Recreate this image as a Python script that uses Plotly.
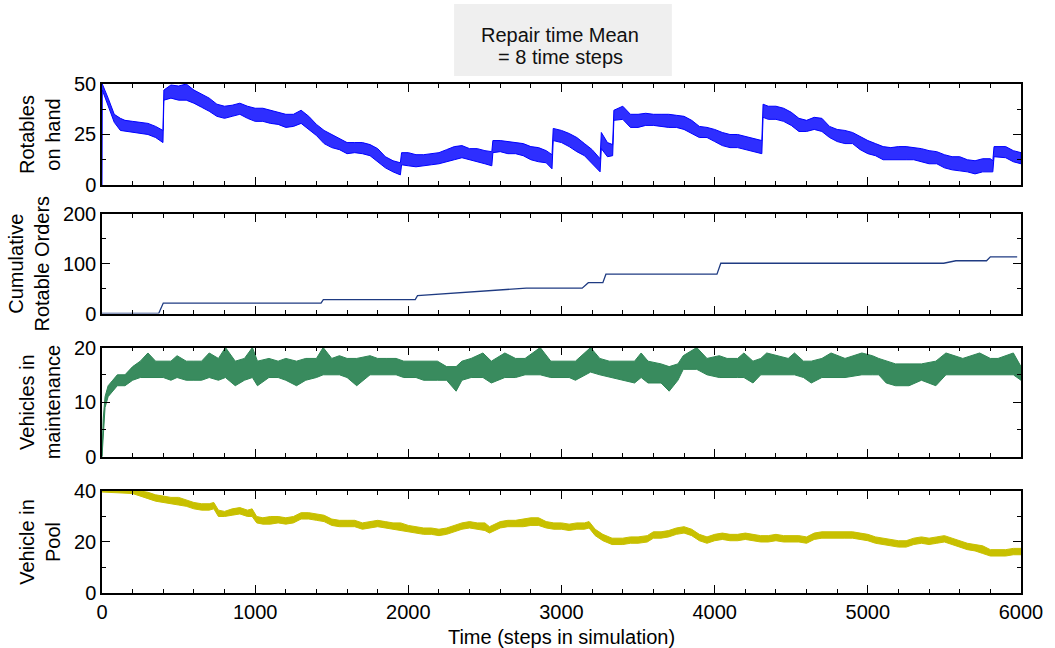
import plotly.graph_objects as go
from plotly.subplots import make_subplots

# ---------------- data ----------------
# Panel 1: Rotables on hand -- noisy series given as low/high envelope
rot_t = [0, 2, 40, 80, 120, 150, 200, 250, 300, 350, 398, 404, 450, 500, 550, 600, 650, 700, 750, 800,
         850, 900, 950, 1000, 1050, 1100, 1150, 1200, 1250, 1300, 1350, 1400, 1450, 1500, 1550, 1600,
         1650, 1700, 1750, 1800, 1850, 1900, 1948, 1956, 2000, 2050, 2100, 2150, 2200, 2250, 2300,
         2350, 2400, 2450, 2500, 2545, 2552, 2600, 2650, 2700, 2750, 2800, 2850, 2900, 2938, 2946,
         3000, 3050, 3100, 3150, 3200, 3252, 3260, 3300, 3334, 3342, 3400, 3450, 3500, 3550, 3600,
         3650, 3700, 3750, 3800, 3850, 3900, 3950, 4000, 4050, 4100, 4150, 4200, 4250, 4308, 4316,
         4350, 4400, 4450, 4500, 4550, 4600, 4650, 4700, 4750, 4800, 4850, 4900, 4950, 5000, 5050,
         5100, 5150, 5200, 5250, 5300, 5350, 5400, 5450, 5500, 5550, 5600, 5650, 5700, 5750, 5800,
         5816, 5824, 5900, 5950, 6000]
rot_lo = [0, 47, 39, 31, 27, 26.5, 26, 25.5, 25, 23.5, 21, 42, 43, 42, 42, 40.5, 38.5, 36.5, 34, 33,
          34, 35, 33, 31.5, 31.5, 30.5, 30, 28.5, 29, 30.5, 27.5, 24.5, 20.5, 18.5, 17.5, 15.5,
          16, 15.5, 14.5, 11.5, 8.5, 6.5, 5, 10, 9.5, 9, 9.5, 10, 10.5, 11.5, 12.5,
          13.5, 12.5, 11.5, 10.5, 9.5, 16, 16.5, 15.5, 15.5, 14.5, 12.5, 11.5, 11, 8, 22,
          21, 19, 16.5, 14.5, 10.5, 6.5, 18, 14, 14.5, 32, 32.5, 28.5, 28.5, 29.5, 29.5,
          29, 28.5, 28.5, 27.5, 25.5, 23.5, 23.5, 21.5, 19.5, 18.5, 18.5, 17.5, 16.5, 15.5, 33.5,
          32.5, 32.5, 31.5, 29.5, 26.5, 26.5, 27.5, 26.5, 23.5, 21.5, 20.5, 20.5, 17.5, 15.5, 14.5,
          12.5, 12.5, 12.5, 12.5, 12.5, 11.5, 10.5, 10.5, 8.5, 7.5, 7, 6.5, 5.5, 6.5, 6.5,
          6.5, 14, 13.5, 11.5, 10.5]
rot_hi = [50, 50, 43, 35, 33, 32, 31.5, 31, 30.5, 29, 27, 47, 49.5, 49, 50, 47, 45, 43, 40, 39,
          39.5, 40.5, 39, 38, 38, 37, 36, 35, 35, 37, 34, 30, 27, 25, 23, 21,
          21, 21, 20, 18, 14, 12, 11, 16, 16, 15, 15, 15.5, 16, 17.5, 19,
          19.5, 18, 18, 17, 16.5, 22, 22, 21.5, 21, 20.5, 19, 18.5, 17, 15, 28,
          27, 25.5, 23.5, 20.5, 17.5, 13, 26, 21, 20, 37, 39, 35, 35, 35.5, 35,
          35, 35, 34.5, 34, 32, 29, 28.5, 27.5, 26, 25, 25, 24, 23, 22, 40,
          39, 39, 38, 36, 33, 32, 33.5, 33, 29, 27.5, 27, 26, 24, 22, 20.5,
          19, 18.5, 19, 19, 18.5, 18, 17, 16.5, 15, 14, 14, 12.5, 12, 13, 13,
          12, 19, 19, 17, 16]

# Panel 2: Cumulative rotable orders
ord_t = [0, 370, 400, 1430, 1445, 2045, 2060, 2770, 3135, 3175, 3270, 3290, 4015, 4040, 5495, 5575,
         5775, 5800, 5975]
ord_v = [0, 0, 21, 21, 28, 28, 36, 51, 51, 62, 62, 79, 79, 101, 101, 106, 106, 114, 114]

# Panel 3: Vehicles in maintenance -- envelope
mnt_t = [0, 8, 20, 40, 70, 100, 150, 200, 250, 300, 350, 400, 450, 490, 550, 600, 650, 700, 760, 806,
         870, 930, 982, 1015, 1090, 1150, 1200, 1270, 1330, 1400, 1444, 1500, 1550, 1600, 1663, 1750,
         1800, 1860, 1920, 1970, 2050, 2100, 2190, 2250, 2312, 2350, 2410, 2487, 2542, 2630, 2700,
         2762, 2861, 2930, 2981, 3050, 3091, 3190, 3250, 3312, 3400, 3477, 3520, 3565, 3650, 3703,
         3760, 3795, 3883, 3950, 4030, 4081, 4150, 4191, 4250, 4301, 4340, 4411, 4480, 4521, 4580,
         4631, 4700, 4760, 4851, 4961, 5030, 5071, 5120, 5181, 5269, 5350, 5444, 5510, 5620, 5730,
         5800, 5850, 5950, 6000]
mnt_lo = [0, 3, 9, 11, 12, 13, 13, 14, 14.5, 14.5, 14.5, 14.5, 14, 14.5, 14, 14, 14, 14.5, 14, 14.5,
          13, 14, 14.5, 13, 14.5, 14.5, 14, 13, 14, 14.5, 15, 15, 15, 14.5, 13, 15,
          15, 15, 15, 14.5, 14.5, 14, 14, 14, 12, 14, 14.5, 14.5, 13.5, 14.5, 14.5,
          15, 15, 14.5, 14.5, 14.5, 14, 15.5, 15, 14.5, 14, 13.5, 14.5, 13.5, 13.5, 12,
          14, 16, 16, 15, 14.5, 14.5, 14.5, 14.5, 13.5, 15, 15, 15, 15, 15, 14.5,
          13.5, 14.5, 14.5, 14.5, 15, 15, 15, 13.5, 13, 13, 14, 13, 15, 15, 15,
          15, 15, 15, 14]
mnt_hi = [0, 7, 11, 13, 14, 15, 15, 16.5, 17.5, 19, 17.5, 17.5, 17.5, 18.5, 17.5, 17.5, 17.5, 19, 18, 20,
          17.5, 18, 20, 17.5, 18, 17.5, 18, 17.5, 18, 18, 20, 18, 18.5, 18, 18, 18.5,
          18, 18, 18, 17.5, 17.5, 17.5, 17.5, 16.5, 16.5, 17.5, 18, 19, 17.5, 19, 18,
          18, 20, 17.5, 17.5, 17.5, 17.5, 20, 18, 17.5, 17.5, 17.5, 19, 17.5, 17, 16.5,
          17, 18.5, 20, 18, 18.5, 18, 18, 19, 17.5, 18, 19, 18.5, 18, 19, 17.5,
          17.5, 18, 19, 18, 19, 18.5, 18, 17.5, 17, 17, 17, 17.5, 19, 18, 19,
          18, 18, 19, 16.5]

# Panel 4: Vehicles in pool -- envelope
pool_t = [0, 200, 250, 300, 350, 400, 450, 500, 550, 600, 650, 700, 730, 760, 800, 850, 900, 950, 980,
          1010, 1050, 1100, 1150, 1200, 1250, 1300, 1350, 1400, 1450, 1500, 1550, 1600, 1650, 1700,
          1750, 1800, 1850, 1900, 1950, 2000, 2050, 2100, 2150, 2200, 2250, 2300, 2350, 2400, 2450,
          2500, 2530, 2600, 2650, 2700, 2750, 2800, 2850, 2900, 2950, 3000, 3050, 3100, 3150, 3180,
          3220, 3270, 3330, 3400, 3450, 3500, 3560, 3600, 3650, 3700, 3750, 3800, 3850, 3900, 3950,
          4000, 4050, 4100, 4150, 4200, 4250, 4300, 4350, 4400, 4450, 4500, 4550, 4600, 4650, 4700,
          4750, 4800, 4850, 4900, 4950, 5000, 5050, 5100, 5150, 5200, 5250, 5300, 5350, 5400, 5450,
          5500, 5550, 5600, 5650, 5700, 5750, 5800, 5850, 5900, 5950, 6000]
pool_lo = [39.6, 39, 38, 37, 36, 35.5, 35, 34.5, 34, 33, 32.5, 32.5, 33, 30, 30, 30.5, 31, 30, 30,
           27.5, 27, 27, 27.5, 27, 27.5, 29, 29, 28.5, 28, 26.5, 26, 26, 26, 25,
           25.5, 26, 25.5, 25, 24.5, 24, 23.5, 23, 23, 22.5, 23, 24, 25, 25.5, 25,
           24.5, 23.5, 25.5, 26, 26, 26, 26.5, 26.5, 25.5, 25, 25, 24.5, 25, 25, 25.5,
           22.5, 20.5, 19, 19, 19.5, 19.5, 20, 21.5, 21.5, 22, 23, 23.5, 22.5, 20.5, 19.5,
           20.5, 21, 20.5, 20.5, 21, 20.5, 20, 20, 20.5, 20, 20, 20, 19.5, 21, 21.5,
           21.5, 21.5, 21.5, 21.5, 21, 20.5, 19.5, 19, 18.5, 18, 18, 19, 19.5, 19, 19.5,
           20, 19, 18, 17, 16.5, 15.5, 14.5, 14.5, 14.5, 15, 15]
pool_hi = [40, 40, 40, 39.5, 38.5, 38, 37.5, 37.5, 36.5, 35.5, 35, 35, 35.5, 32.5, 32, 33, 33.5, 32.5, 33,
           30, 29.5, 30, 30, 29.5, 30, 31.5, 31.5, 31, 30.5, 29, 28.5, 28.5, 28.5, 27.5,
           28, 28.5, 28, 27.5, 27.5, 26.5, 26, 25.5, 25.5, 25, 25.5, 26.5, 27.5, 28, 27.5,
           27.5, 26, 28, 28.5, 28.5, 29, 29.5, 29.5, 28, 27.5, 27.5, 27, 27.5, 27.5, 28,
           25, 23, 21.5, 21.5, 22, 22, 22.5, 24, 24, 24.5, 25.5, 26, 25, 23, 22,
           23, 23.5, 23, 23, 23.5, 23, 22.5, 22.5, 23, 22.5, 22.5, 22.5, 22, 23.5, 24,
           24, 24, 24, 24, 23.5, 23, 22, 21.5, 21, 20.5, 20.5, 21.5, 22, 21.5, 22,
           22.5, 21.5, 20.5, 19.5, 19, 18.5, 17, 17, 17, 17.5, 17.5]

# axis texts
title_lines = ["Repair time Mean", "= 8 time steps"]
y_titles = ["Rotables<br>on hand", "Cumulative<br>Rotable Orders",
            "Vehicles in<br>maintenance", "Vehicle in<br>Pool"]
y_ranges = [[0, 50], [0, 200], [0, 20], [0, 40]]
y_dticks = [25, 100, 10, 20]
y_minor = [12.5, 50, 5, 10]
x_title = "Time (steps in simulation)"

# ---------------- figure ----------------
FONT = "Liberation Sans, Arial, Helvetica, sans-serif"
fig = make_subplots(rows=4, cols=1, shared_xaxes=True)


def band(t, lo, hi, fill, color, row):
    xs = list(t) + list(t)[::-1]
    ys = list(hi) + list(lo)[::-1]
    fig.add_trace(go.Scatter(x=xs, y=ys, mode="lines", fill="toself", fillcolor=fill,
                             line=dict(color=color, width=1), hoverinfo="skip",
                             showlegend=False), row=row, col=1)


band(rot_t, rot_lo, rot_hi, "rgba(0,0,255,0.82)", "#0000ff", 1)
fig.add_trace(go.Scatter(x=ord_t, y=ord_v, mode="lines", line=dict(color="#1f3b82", width=1.3),
                         showlegend=False), row=2, col=1)
band(mnt_t, mnt_lo, mnt_hi, "rgba(46,133,85,0.95)", "#2e8555", 3)
band(pool_t, pool_lo, pool_hi, "#c8c000", "#c8c000", 4)

domains = [[0.8016, 1.0], [0.5491, 0.7446], [0.2678, 0.4823], [0.0, 0.2004]]
for i in range(4):
    yname = "yaxis" if i == 0 else f"yaxis{i + 1}"
    xname = "xaxis" if i == 0 else f"xaxis{i + 1}"
    fig.layout[yname].update(
        domain=domains[i], range=y_ranges[i], dtick=y_dticks[i], tick0=0,
        showline=True, linecolor="black", linewidth=1.5, mirror="ticks",
        ticks="inside", ticklen=8, tickwidth=1.2, tickcolor="black",
        minor=dict(dtick=y_minor[i], tick0=0, ticks="inside", ticklen=4, tickcolor="black", tickwidth=1.2),
        showgrid=False, zeroline=False,
        tickfont=dict(family=FONT, size=20, color="black"),
        title=dict(text=y_titles[i], font=dict(family=FONT, size=20, color="black"), standoff=8),
    )
    fig.layout[xname].update(
        range=[0, 6000], dtick=1000, tick0=0,
        showline=True, linecolor="black", linewidth=1.5, mirror="ticks",
        ticks="inside", ticklen=8, tickwidth=1.2, tickcolor="black",
        minor=dict(dtick=200, tick0=0, ticks="inside", ticklen=4, tickcolor="black", tickwidth=1.2),
        showgrid=False, zeroline=False, showticklabels=(i == 3),
        tickfont=dict(family=FONT, size=20, color="black"),
    )

fig.layout.xaxis4.update(title=dict(text=x_title, font=dict(family=FONT, size=20, color="black"),
                                     standoff=8))

# title box
W, H = 1055, 648
L, R, T, B = 101.5, 33.5, 84, 55
pw, ph = W - L - R, H - T - B


def px(x):
    return (x - L) / pw


def py(y):
    return (H - B - y) / ph


fig.add_shape(type="rect", xref="paper", yref="paper", x0=px(454), x1=px(672), y0=py(76), y1=py(4),
              fillcolor="#efefef", line=dict(width=0), layer="below")
for k, yy in enumerate([35, 57]):
    fig.add_annotation(text=title_lines[k], xref="paper", yref="paper", x=px(560), y=py(yy),
                       xanchor="center", yanchor="middle", showarrow=False,
                       font=dict(family=FONT, size=20, color="#111111"))

fig.update_layout(width=W, height=H, margin=dict(l=L, r=R, t=T, b=B, autoexpand=False),
                  plot_bgcolor="white", paper_bgcolor="white", showlegend=False)

fig.write_html("out.html", config={"displayModeBar": False},
               post_script="document.body.style.margin='0px';")
